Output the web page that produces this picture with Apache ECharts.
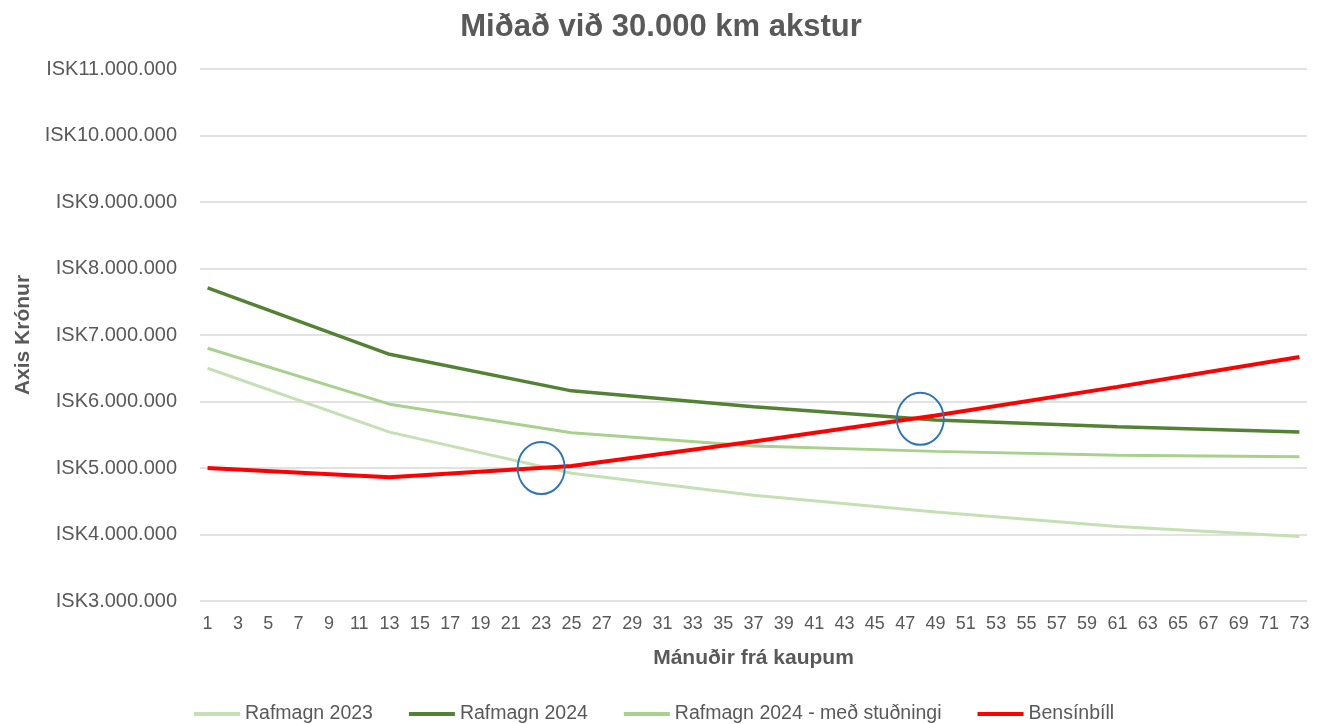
<!DOCTYPE html>
<html>
<head>
<meta charset="utf-8">
<script src="https://cdn.jsdelivr.net/npm/echarts@6/dist/echarts.min.js"></script>
<style>
  html, body { margin: 0; padding: 0; background: #fff; }
  #chart { width: 1322px; height: 724px; }
</style>
</head>
<body>
<div id="chart"></div>
<script>
// months 1..73 on the x axis
const months = [];
for (let m = 1; m <= 73; m++) months.push(String(m));

// values read at the yearly points (months 1, 13, 25, 37, 49, 61, 73)
const yearMonths = [1, 13, 25, 37, 49, 61, 73];
const rafmagn2023 = [6500000, 5540000, 4920000, 4590000, 4340000, 4120000, 3970000];
const rafmagn2024 = [7710000, 6710000, 6160000, 5920000, 5720000, 5620000, 5540000];
const rafmagn2024Styrkur = [6800000, 5960000, 5530000, 5330000, 5250000, 5190000, 5170000];
const bensinbill = [5000000, 4860000, 5030000, 5400000, 5790000, 6220000, 6670000];

// circled crossing points: [month, value]
const crossings = [[23, 5000000], [48, 5740000]];

const yTicks = { min: 3000000, max: 11000000, interval: 1000000 };

function toSeriesData(values) {
  const out = months.map(() => null);
  yearMonths.forEach((m, i) => { out[m - 1] = values[i]; });
  return out;
}

function isk(v) {
  return 'ISK' + String(v).replace(/\B(?=(\d{3})+(?!\d))/g, '.');
}

const grey = '#595959';
const font = 'Liberation Sans, Arial, sans-serif';

const chart = echarts.init(document.getElementById('chart'));
chart.setOption({
  animation: false,
  textStyle: { fontFamily: font },
  title: {
    text: 'Miðað við 30.000 km akstur',
    left: 'center',
    top: 7,
    textStyle: { color: grey, fontSize: 31, fontWeight: 'bold', fontFamily: font }
  },
  grid: { left: 200, right: 15, top: 69, bottom: 123 },
  legend: {
    top: 699,
    left: 189,
    icon: 'rect',
    itemWidth: 46,
    itemHeight: 4,
    itemGap: 36,
    textStyle: { color: grey, fontSize: 19.5, fontFamily: font },
    data: ['Rafmagn 2023', 'Rafmagn 2024', 'Rafmagn 2024 - með stuðningi', 'Bensínbíll']
  },
  xAxis: {
    type: 'category',
    data: months,
    boundaryGap: true,
    name: 'Mánuðir frá kaupum',
    nameLocation: 'middle',
    nameGap: 47,
    nameTextStyle: { color: grey, fontSize: 21, fontWeight: 'bold', fontFamily: font },
    axisLine: { show: false },
    axisTick: { show: false },
    axisLabel: { interval: 1, color: grey, fontSize: 18, margin: 14, fontFamily: font }
  },
  yAxis: {
    type: 'value',
    min: yTicks.min,
    max: yTicks.max,
    interval: yTicks.interval,
    name: 'Axis Krónur',
    nameLocation: 'middle',
    nameGap: 163,
    nameTextStyle: { color: grey, fontSize: 21, fontWeight: 'bold', fontFamily: font },
    axisLine: { show: false },
    axisTick: { show: false },
    axisLabel: { formatter: isk, color: grey, fontSize: 20, margin: 23, fontFamily: font },
    splitLine: { lineStyle: { color: '#d9d9d9', width: 1.5 } }
  },
  series: [
    {
      name: 'Rafmagn 2023',
      type: 'line',
      data: toSeriesData(rafmagn2023),
      connectNulls: true,
      showSymbol: false,
      symbol: 'none',
      itemStyle: { color: '#C5E0B4' },
      lineStyle: { color: '#C5E0B4', width: 3 }
    },
    {
      name: 'Rafmagn 2024',
      type: 'line',
      data: toSeriesData(rafmagn2024),
      connectNulls: true,
      showSymbol: false,
      symbol: 'none',
      itemStyle: { color: '#548235' },
      lineStyle: { color: '#548235', width: 3.5 }
    },
    {
      name: 'Rafmagn 2024 - með stuðningi',
      type: 'line',
      data: toSeriesData(rafmagn2024Styrkur),
      connectNulls: true,
      showSymbol: false,
      symbol: 'none',
      itemStyle: { color: '#A9D18E' },
      lineStyle: { color: '#A9D18E', width: 3 }
    },
    {
      name: 'Bensínbíll',
      type: 'line',
      data: toSeriesData(bensinbill),
      connectNulls: true,
      showSymbol: false,
      symbol: 'none',
      itemStyle: { color: '#FF0000' },
      lineStyle: { color: '#FF0000', width: 4 },
      markPoint: {
        symbol: 'circle',
        symbolSize: [47, 52],
        label: { show: false },
        itemStyle: { color: 'rgba(0,0,0,0)', borderColor: '#2E75B6', borderWidth: 2 },
        data: crossings.map(c => ({ coord: [String(c[0]), c[1]] }))
      }
    }
  ]
});
</script>
</body>
</html>
